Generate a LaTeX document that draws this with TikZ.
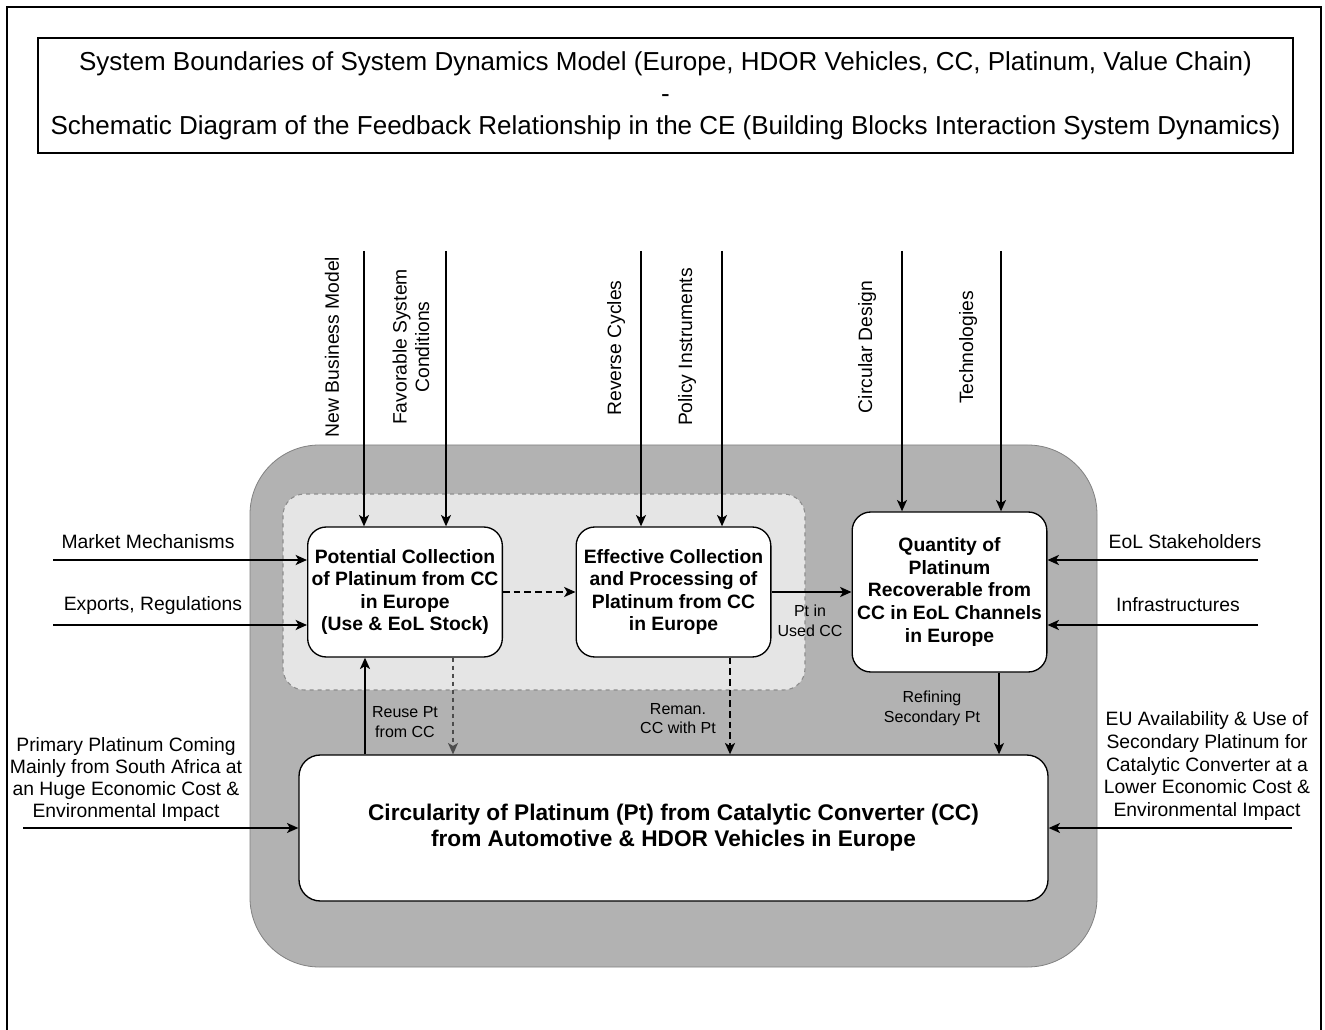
\documentclass[tikz,border=0pt]{standalone}
\usepackage{fontspec}
\setmainfont{Liberation Sans}
\usetikzlibrary{arrows.meta}
\definecolor{outergray}{gray}{0.70}
\definecolor{outeredge}{gray}{0.50}
\definecolor{innergray}{gray}{0.90}
\definecolor{inneredge}{gray}{0.55}
\definecolor{dashgray}{gray}{0.30}
\begin{document}
\begin{tikzpicture}[x=0.75pt,y=-0.75pt,
  box/.style={draw=black, line width=1pt, fill=white, rounded corners=14pt, align=center,
    font=\bfseries\fontsize{14.5pt}{17pt}\selectfont, inner sep=0pt},
  lbl/.style={align=center, font=\fontsize{14.5pt}{17pt}\selectfont, inner sep=0pt},
  slbl/.style={align=center, font=\fontsize{12pt}{14.5pt}\selectfont, inner sep=0pt},
  tip/.style={-{Stealth[length=8.5pt,width=7.5pt,inset=2.2pt]}},
  thinarr/.style={tip, line width=1pt},
  thickarr/.style={tip, line width=1.6pt},
  dasharr/.style={tip, line width=1.5pt, dash pattern=on 5pt off 3pt},
  lightdasharr/.style={tip, line width=1pt, draw=dashgray, dash pattern=on 3.5pt off 2.5pt},
]
\useasboundingbox (0,0) rectangle (1325,1030);
% outer frame
\draw[line width=1.5pt] (7,1030) -- (7,7) -- (1321,7) -- (1321,1030);
% title
\node[draw, line width=1.5pt, minimum width=941.25pt, minimum height=86.25pt, align=center,
  font=\fontsize{19.5pt}{24pt}\selectfont, inner sep=0pt] (title) at (665.5,95.5)
  {System Boundaries of System Dynamics Model (Europe, HDOR Vehicles, CC, Platinum, Value Chain)\\-\\Schematic Diagram of the Feedback Relationship in the CE (Building Blocks Interaction System Dynamics)};
% backgrounds
\draw[fill=outergray, draw=outeredge, line width=0.6pt, rounded corners=52pt] (250,445) rectangle (1097,967);
\draw[fill=innergray, draw=inneredge, dashed, line width=0.8pt, rounded corners=16pt] (283,494) rectangle (805,690);
% boxes
\node[box, minimum width=146pt, minimum height=97.5pt] (A) at (405,592)
  {Potential Collection\\of Platinum from CC\\in Europe\\(Use \& EoL Stock)};
\node[box, minimum width=146pt, minimum height=97.5pt] (B) at (673.5,592)
  {Effective Collection\\and Processing of\\Platinum from CC\\in Europe};
\node[box, minimum width=146pt, minimum height=120pt] (C) at (949.5,592)
  {Quantity of\\Platinum\\Recoverable from\\CC in EoL Channels\\in Europe};
\node[box, minimum width=561.75pt, minimum height=109.5pt, rounded corners=16pt,
  font=\bfseries\fontsize{17pt}{19.5pt}\selectfont] (D) at (673.5,828)
  {Circularity of Platinum (Pt) from Catalytic Converter (CC)\\from Automotive \& HDOR Vehicles in Europe};
% top labels
\node[lbl, rotate=90] (nbm) at (332,347) {New Business Model};
\node[lbl, rotate=90] (fsc) at (411,347) {Favorable System\\Conditions};
\node[lbl, rotate=90] (rc) at (616,348) {Reverse Cycles};
\node[lbl, rotate=90] (pin) at (687,347) {Policy Instruments};
\node[lbl, rotate=90] (cd) at (867,347) {Circular Design};
\node[lbl, rotate=90] (tech) at (968,347.5) {Technologies};
% top arrows
\coordinate (v1) at (364,251);
\coordinate (v2) at (446,251);
\coordinate (v3) at (641,251);
\coordinate (v4) at (722,251);
\coordinate (v5) at (902,251);
\coordinate (v6) at (1001,251);
\draw[thinarr] (v1) -- (v1 |- A.north);
\draw[thinarr] (v2) -- (v2 |- A.north);
\draw[thinarr] (v3) -- (v3 |- B.north);
\draw[thinarr] (v4) -- (v4 |- B.north);
\draw[thinarr] (v5) -- (v5 |- C.north);
\draw[thinarr] (v6) -- (v6 |- C.north);
% left inputs
\node[lbl] (mm) at (148,542) {Market Mechanisms};
\node[lbl] (er) at (153,605) {Exports, Regulations};
\coordinate (h1) at (53,560);
\coordinate (h2) at (53,625);
\draw[thickarr] (h1) -- (h1 -| A.west);
\draw[thickarr] (h2) -- (h2 -| A.west);
% right inputs
\node[lbl] (eol) at (1185,542) {EoL Stakeholders};
\node[lbl] (inf) at (1178,605) {Infrastructures};
\coordinate (h3) at (1258,560);
\coordinate (h4) at (1258,625);
\draw[thickarr] (h3) -- (h3 -| C.east);
\draw[thickarr] (h4) -- (h4 -| C.east);
% internal flows
\draw[dasharr] (A) -- (B);
\draw[thickarr] (B) -- (C);
\node[slbl, font=\fontsize{12pt}{15pt}\selectfont] (ptin) at (810,621) {Pt in\\Used CC};
\coordinate (cx) at (999,0);
\draw[thinarr] (cx |- C.south) -- (cx |- D.north);
\node[slbl] (refin) at (932,708.5) {Refining\\Secondary Pt};
\coordinate (ux) at (365,0);
\draw[thickarr] (ux |- D.north) -- (ux |- A.south);
\node[slbl] (reuse) at (405,722) {Reuse Pt\\from CC};
\coordinate (dx1) at (453,0);
\draw[lightdasharr] (dx1 |- A.south) -- (dx1 |- D.north);
\coordinate (dx2) at (730,0);
\draw[dasharr] (dx2 |- B.south) -- (dx2 |- D.north);
\node[slbl] (reman) at (678,718.5) {Reman.\\CC with Pt};
% bottom side inputs
\node[lbl, font=\fontsize{14.5pt}{16.3pt}\selectfont] (prim) at (126,779.5)
  {Primary Platinum Coming\\Mainly from South Africa at\\an Huge Economic Cost \&\\Environmental Impact};
\coordinate (pl) at (23,828);
\draw[thinarr] (pl) -- (pl -| D.west);
\node[lbl, font=\fontsize{14.5pt}{17pt}\selectfont] (eu) at (1207,766)
  {EU Availability \& Use of\\Secondary Platinum for\\Catalytic Converter at a\\Lower Economic Cost \&\\Environmental Impact};
\coordinate (pr) at (1292,828);
\draw[thinarr] (pr) -- (pr -| D.east);
\end{tikzpicture}
\end{document}
